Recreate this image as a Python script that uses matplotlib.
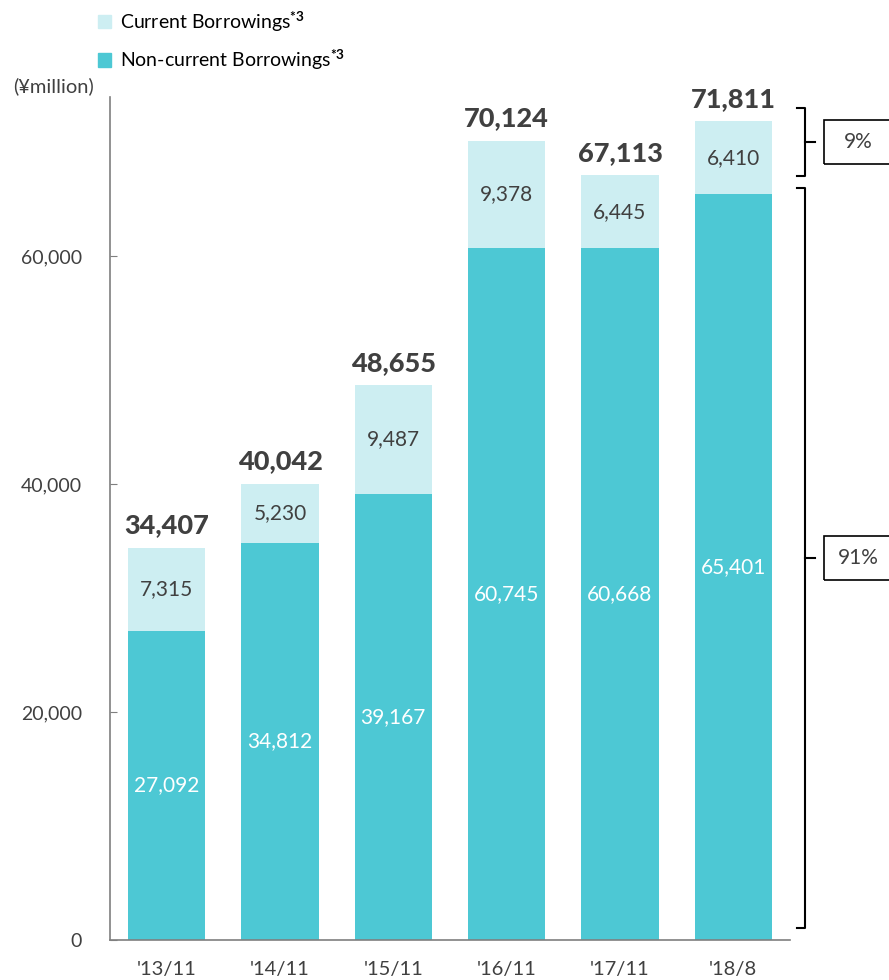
import matplotlib.pyplot as plt
import matplotlib.transforms as mtransforms
from matplotlib.patches import Patch, Rectangle
import numpy as np

plt.rcParams['font.family'] = ['Lato', 'DejaVu Sans']
plt.rcParams['mathtext.fontset'] = 'custom'
plt.rcParams['mathtext.rm'] = 'Lato'
plt.rcParams['mathtext.bf'] = 'Lato:bold'

# data
periods = ["'13/11", "'14/11", "'15/11", "'16/11", "'17/11", "'18/8"]
non_current = [27092, 34812, 39167, 60745, 60668, 65401]
current = [7315, 5230, 9487, 9378, 6445, 6410]
totals = [34407, 40042, 48655, 70124, 67113, 71811]
yticks = [0, 20000, 40000, 60000]

DARK = '#4DC8D4'
LIGHT = '#CDEEF2'
TXT = '#404040'
AXC = '#7F7F7F'

fig = plt.figure(figsize=(8.89, 9.80), dpi=100)
ax = fig.add_axes([110 / 889, 1 - 940 / 980, 680 / 889, (940 - 97) / 980])

x = np.arange(len(periods))
w = 0.68
ax.bar(x, non_current, w, color=DARK)
ax.bar(x, current, w, bottom=non_current, color=LIGHT)

for i in range(len(periods)):
    ax.text(x[i], non_current[i] / 2, f"{non_current[i]:,}", ha='center', va='center',
            color='white', fontsize=15)
    ax.text(x[i], non_current[i] + current[i] / 2, f"{current[i]:,}", ha='center', va='center',
            color=TXT, fontsize=15)
    ax.text(x[i], totals[i] + 900, f"{totals[i]:,}", ha='center', va='bottom',
            color=TXT, fontsize=19.5, fontweight='black')

ax.set_xlim(-0.5, len(periods) - 0.5)
ax.set_ylim(0, 73950)
ax.set_yticks(yticks)
ax.set_yticklabels([f"{v:,}" for v in yticks])
ax.set_xticks(x)
ax.set_xticklabels(periods)
ax.tick_params(axis='y', direction='in', length=5, color=AXC, labelsize=14, labelcolor=TXT, pad=20)
ax.tick_params(axis='x', length=0, labelsize=14.5, labelcolor=TXT, pad=15)
for s in ['top', 'right']:
    ax.spines[s].set_visible(False)
for s in ['left', 'bottom']:
    ax.spines[s].set_color(AXC)
    ax.spines[s].set_linewidth(1.2)

fig.text(13 / 889, 1 - 86 / 980, '(¥million)', fontsize=14.5, color=TXT, va='center', ha='left')

handles = [Patch(color=LIGHT), Patch(color=DARK)]
labels = [r'Current Borrowings$^{\mathbf{*3}}$', r'Non-current Borrowings$^{\mathbf{*3}}$']
fig.legend(handles, labels, loc='upper left', bbox_to_anchor=(90 / 889, 1 - 1 / 980),
           frameon=False, fontsize=14, handlelength=0.7, handleheight=0.7,
           handletextpad=0.45, labelspacing=0.7, borderaxespad=0)

# brackets + percentage boxes for the last bar
tr = mtransforms.blended_transform_factory(fig.transFigure, ax.transData)
pct_cur = round(current[-1] / totals[-1] * 100)
pct_non = 100 - pct_cur
xb = 805 / 889
xh = 797 / 889
xt = 815 / 889
for lo, hi, pct in [(67000, 73000, pct_cur), (1050, 66000, pct_non)]:
    mid = (lo + hi) / 2
    ax.plot([xh, xb, xb, xh], [hi, hi, lo, lo], color='black', lw=1.5,
            transform=tr, clip_on=False, solid_joinstyle='round')
    ax.plot([xb, xt], [mid, mid], color='black', lw=1.5, transform=tr, clip_on=False)
    ymid_px = 940 - mid / 1000 * 11.4
    fig.patches.append(Rectangle((824 / 889, 1 - (ymid_px + 22) / 980), 80 / 889, 44 / 980,
                                 transform=fig.transFigure, fill=False, edgecolor='black', lw=1.2))
    fig.text(858 / 889, 1 - ymid_px / 980, f"{pct}%", fontsize=15, color=TXT,
             ha='center', va='center')

fig.savefig('out.png', dpi=100)
